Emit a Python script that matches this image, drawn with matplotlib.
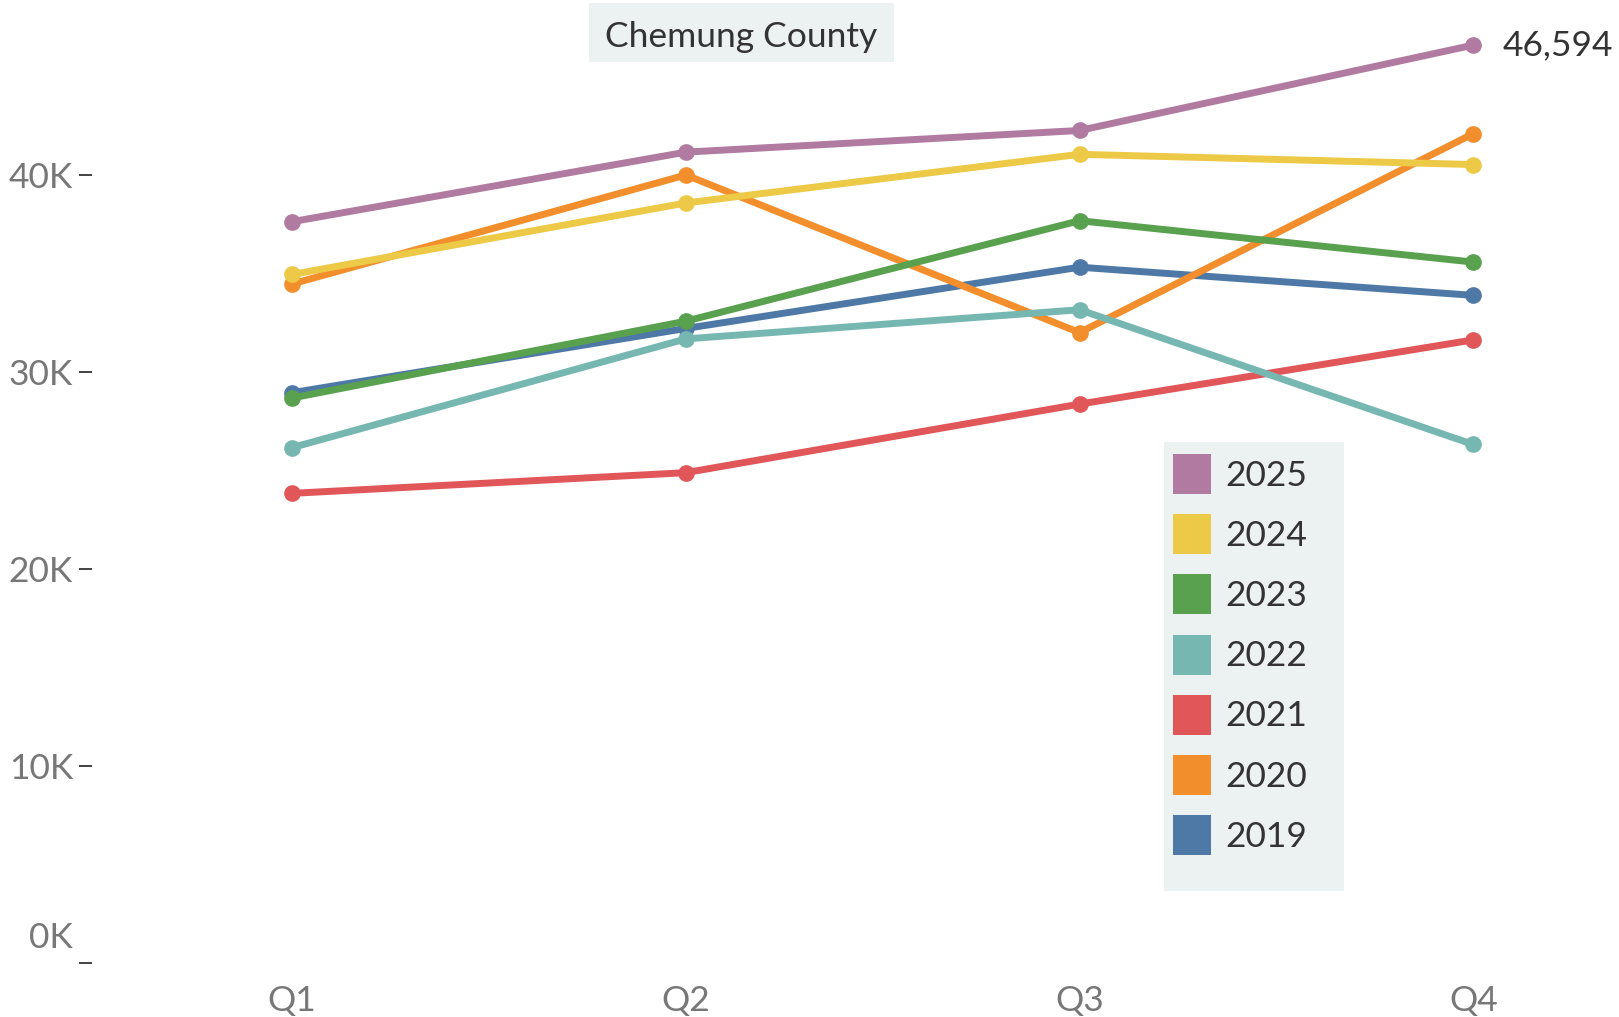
import matplotlib
matplotlib.use("Agg")
import matplotlib.pyplot as plt
from matplotlib.patches import Patch, Rectangle

quarters = ["Q1", "Q2", "Q3", "Q4"]
years = ["2025", "2024", "2023", "2022", "2021", "2020", "2019"]
v2025 = [37630, 41160, 42260, 46594]
v2024 = [34950, 38580, 41050, 40530]
v2023 = [28680, 32580, 37680, 35580]
v2022 = [26160, 31680, 33160, 26320]
v2021 = [23840, 24890, 28370, 31630]
v2020 = [34470, 40000, 32000, 42100]
v2019 = [28950, 32210, 35320, 33890]
series = {"2025": v2025, "2024": v2024, "2023": v2023, "2022": v2022,
          "2021": v2021, "2020": v2020, "2019": v2019}
colors = {"2025": "#B07AA1", "2024": "#EDC948", "2023": "#59A14F", "2022": "#76B7B2",
          "2021": "#E15759", "2020": "#F28E2B", "2019": "#4E79A7"}
ytick_vals = [0, 10000, 20000, 30000, 40000]
ytick_labels = ["0K", "10K", "20K", "30K", "40K"]
title = "Chemung County"
end_label = "46,594"

plt.rcParams["font.family"] = ["Lato", "DejaVu Sans"]
W, H = 1619, 1017
FS = 25.5
fig = plt.figure(figsize=(W / 100, H / 100), dpi=100)
ax = fig.add_axes([92 / W, (H - 963) / H, (W - 92) / W, 963 / H])

x = list(range(len(quarters)))
for yr in reversed(years):
    ax.plot(x, series[yr], color=colors[yr], lw=5, marker="o", ms=11,
            solid_capstyle="round", zorder=3)

ax.set_xlim(-0.508, 3.37)
ax.set_ylim(0, 48883)
for s in ax.spines.values():
    s.set_visible(False)
ax.set_xticks(x)
ax.set_xticklabels(quarters)
ax.tick_params(axis="x", length=0, pad=16, labelsize=FS, labelcolor="#777777")
ax.set_yticks(ytick_vals)
ax.set_yticklabels(["" if l == "0K" else l for l in ytick_labels])
ax.tick_params(axis="y", length=9.4, width=1.3, color="#333333", pad=4.3,
               labelsize=FS, labelcolor="#777777")
ax.annotate("0K", xy=(0, 0), xycoords=("axes fraction", "data"),
            xytext=(-14, 18), textcoords="offset points", ha="right", va="center",
            fontsize=FS, color="#777777", annotation_clip=False)

ax.annotate(end_label, xy=(3, v2025[-1]), xytext=(21, 0), textcoords="offset points",
            ha="left", va="center", fontsize=FS, color="#333333", annotation_clip=False)

# title box
fig.add_artist(Rectangle((589 / W, 1 - 62 / H), 305 / W, 59 / H,
                         transform=fig.transFigure, facecolor="#EBF2F1",
                         edgecolor="none", zorder=1))
fig.text(741 / W, 1 - 37 / H, title, ha="center", va="center", fontsize=FS,
         color="#333333", zorder=2)

# legend background
ax.add_patch(Rectangle((1164 / W, 1 - 891 / H), 180 / W, 449 / H,
                       transform=fig.transFigure, facecolor="#EBF2F1",
                       edgecolor="none", zorder=1, clip_on=False))
handles = [Patch(facecolor=colors[y], edgecolor="none") for y in years]
leg = ax.legend(handles, years, loc="upper left",
                bbox_to_anchor=(1173 / W, 1 - 454 / H), bbox_transform=fig.transFigure,
                frameon=False, borderpad=0, borderaxespad=0, fontsize=FS,
                handlelength=1.07, handleheight=1.36, handletextpad=0.42,
                labelspacing=0.57)
for t in leg.get_texts():
    t.set_color("#333333")
leg.set_zorder(5)

fig.savefig("out.png", dpi=100, facecolor="white")
